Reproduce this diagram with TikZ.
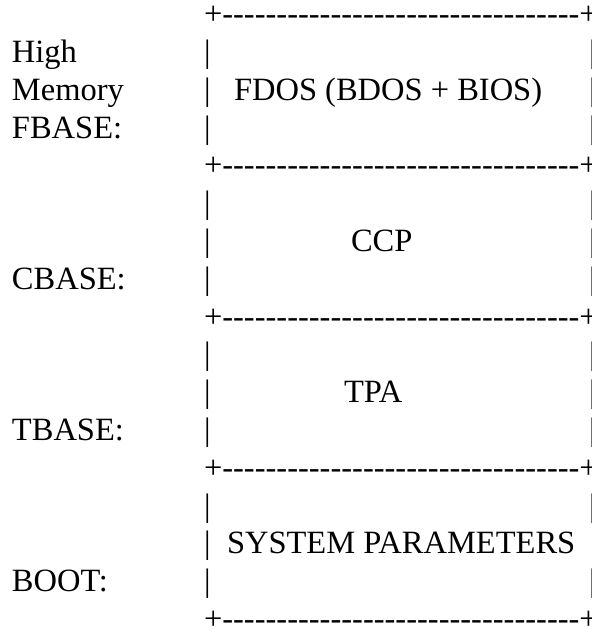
\documentclass[tikz,border=0pt]{standalone}
\usepackage{fontspec}
\newfontfamily\asciifont{Liberation Serif}
\newcommand\hy{\hbox{-}}
\newcommand\hyten{\hy\hy\hy\hy\hy\hy\hy\hy\hy\hy}
\newcommand\dashrow{+\hyten\hyten\hyten\hy\hy\hy+}
\begin{document}
\begin{tikzpicture}[x=1pt,y=-1pt,
  txt/.style={inner sep=0pt,outer sep=0pt,anchor=base west,
    font=\asciifont\fontsize{32.5}{39}\selectfont}]
\useasboundingbox[fill=white] (0,0) rectangle (592,627);
% row baselines
\def\lx{204}
% dash rows
\foreach \k/\y in {1/24.7,5/175.9,9/327.1,13/478.3,17/629.5}
  \node[txt] (row\k) at (\lx,\y) {\dashrow};
% left pipes
\foreach \k/\y in {2/62.5,3/100.3,4/138.1,6/213.7,7/251.5,8/289.3,10/364.9,11/402.7,12/440.5,14/516.1,15/553.9,16/591.7}
  \node[txt] (lp\k) at (\lx,\y) {|};
% right pipes
\foreach \k/\y in {2/62.5,3/100.3,4/138.1,6/213.7,7/251.5,8/289.3,10/364.9,11/402.7,12/440.5,14/516.1,16/591.7}
  \node[txt] (rp\k) at (589,\y) {|};
% left labels
\node[txt] (high) at (12,62.5) {High};
\node[txt] (mem) at (12,100.3) {Memory};
\node[txt] (fbase) at (12,138.1) {FBASE:};
\node[txt] (cbase) at (12,289.3) {CBASE:};
\node[txt] (tbase) at (12,440.5) {TBASE:};
\node[txt] (boot) at (12,591.7) {BOOT:};
% block texts
\node[txt] (fdos) at (234,100.3) {FDOS (BDOS + BIOS)};
\node[txt] (ccp) at (351,251.5) {CCP};
\node[txt] (tpa) at (344,402.7) {TPA};
\node[txt] (sysp) at (227,553.9) {SYSTEM PARAMETERS};
\end{tikzpicture}
\end{document}
